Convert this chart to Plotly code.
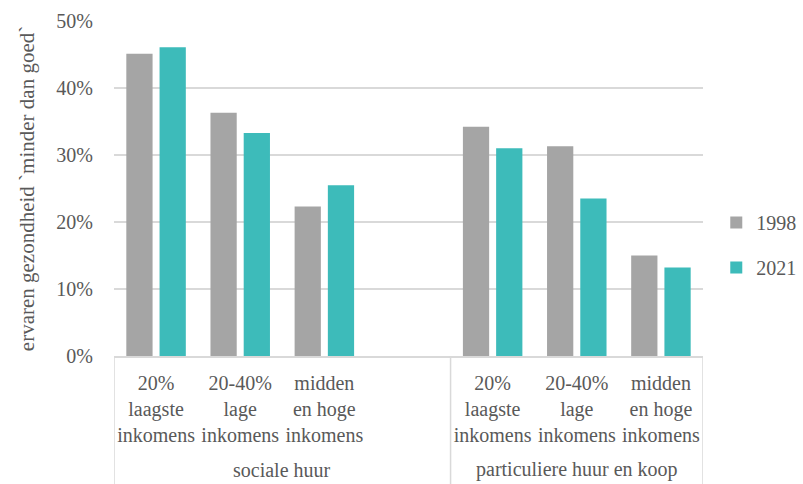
import plotly.graph_objects as go

group_names = ["sociale huur", "particuliere huur en koop"]
group_sizes = [4, 3]
categories = ["c1", "c2", "c3", "gap", "c4", "c5", "c6"]
category_labels = ["20%<br>laagste<br>inkomens", "20-40%<br>lage<br>inkomens", "midden<br>en hoge<br>inkomens", "",
                   "20%<br>laagste<br>inkomens", "20-40%<br>lage<br>inkomens", "midden<br>en hoge<br>inkomens"]
values_1998 = [45.1, 36.3, 22.3, None, 34.2, 31.3, 15.0]
values_2021 = [46.1, 33.3, 25.5, None, 31.0, 23.5, 13.2]
y_ticks = [0, 10, 20, 30, 40, 50]
y_tick_labels = ["0%", "10%", "20%", "30%", "40%", "50%"]

FONT = "Liberation Serif"
TXT = "#595959"
LINE = "#D9D9D9"

fig = go.Figure()
fig.add_trace(go.Bar(name="1998", x=categories, y=values_1998,
                     marker=dict(color="#A5A5A5", line=dict(width=0)), legendgroup="a"))
fig.add_trace(go.Bar(name="2021", x=categories, y=values_2021,
                     marker=dict(color="#3DBBBA", line=dict(width=0)), legendgroup="b"))

# group labels and divider lines of the two-level category axis
start = -0.5
shapes = []
annotations = []
for name, size in zip(group_names, group_sizes):
    end = start + size
    annotations.append(dict(x=(start + end) / 2, xref="x", y=-0.34, yref="paper",
                            text=name, showarrow=False, xanchor="center", yanchor="middle",
                            font=dict(family=FONT, size=20, color=TXT)))
    shapes.append(dict(type="line", xref="x", yref="paper", x0=start, x1=start, y0=0, y1=-0.4,
                       line=dict(color=LINE, width=1.5)))
    start = end
shapes.append(dict(type="line", xref="x", yref="paper", x0=start, x1=start, y0=0, y1=-0.4,
                   line=dict(color=LINE, width=1.5)))

fig.update_layout(
    width=803, height=484,
    margin=dict(l=114, r=100, t=21, b=128),
    paper_bgcolor="white", plot_bgcolor="white",
    barmode="group", bargap=0.21, bargroupgap=0.21,
    font=dict(family=FONT, size=20, color=TXT),
    legend=dict(xref="container", yref="container", x=0.892, y=0.494,
                xanchor="left", yanchor="middle",
                font=dict(size=20, color=TXT), tracegroupgap=16,
                itemwidth=30),
    showlegend=True,
    shapes=shapes, annotations=annotations,
)
fig.update_yaxes(range=[0, 50], tickvals=y_ticks, ticktext=y_tick_labels,
                 showgrid=True, gridcolor=LINE, gridwidth=1.5,
                 zeroline=False, showline=False, ticklabelstandoff=20,
                 tickfont=dict(size=20, color=TXT), automargin=False,
                 title=dict(text="ervaren gezondheid `minder dan goed`",
                            font=dict(size=21, color=TXT), standoff=15))
fig.update_xaxes(type="category", categoryorder="array", categoryarray=categories,
                 tickvals=categories, ticktext=category_labels,
                 showline=True, linecolor=LINE, linewidth=1.5, range=[-0.5, 6.5],
                 tickfont=dict(size=20, color=TXT), ticks="", tickangle=0,
                 ticklabelstandoff=8, automargin=False)

fig.write_html("out.html", config={"displayModeBar": False},
               post_script="document.body.style.margin='0';")
